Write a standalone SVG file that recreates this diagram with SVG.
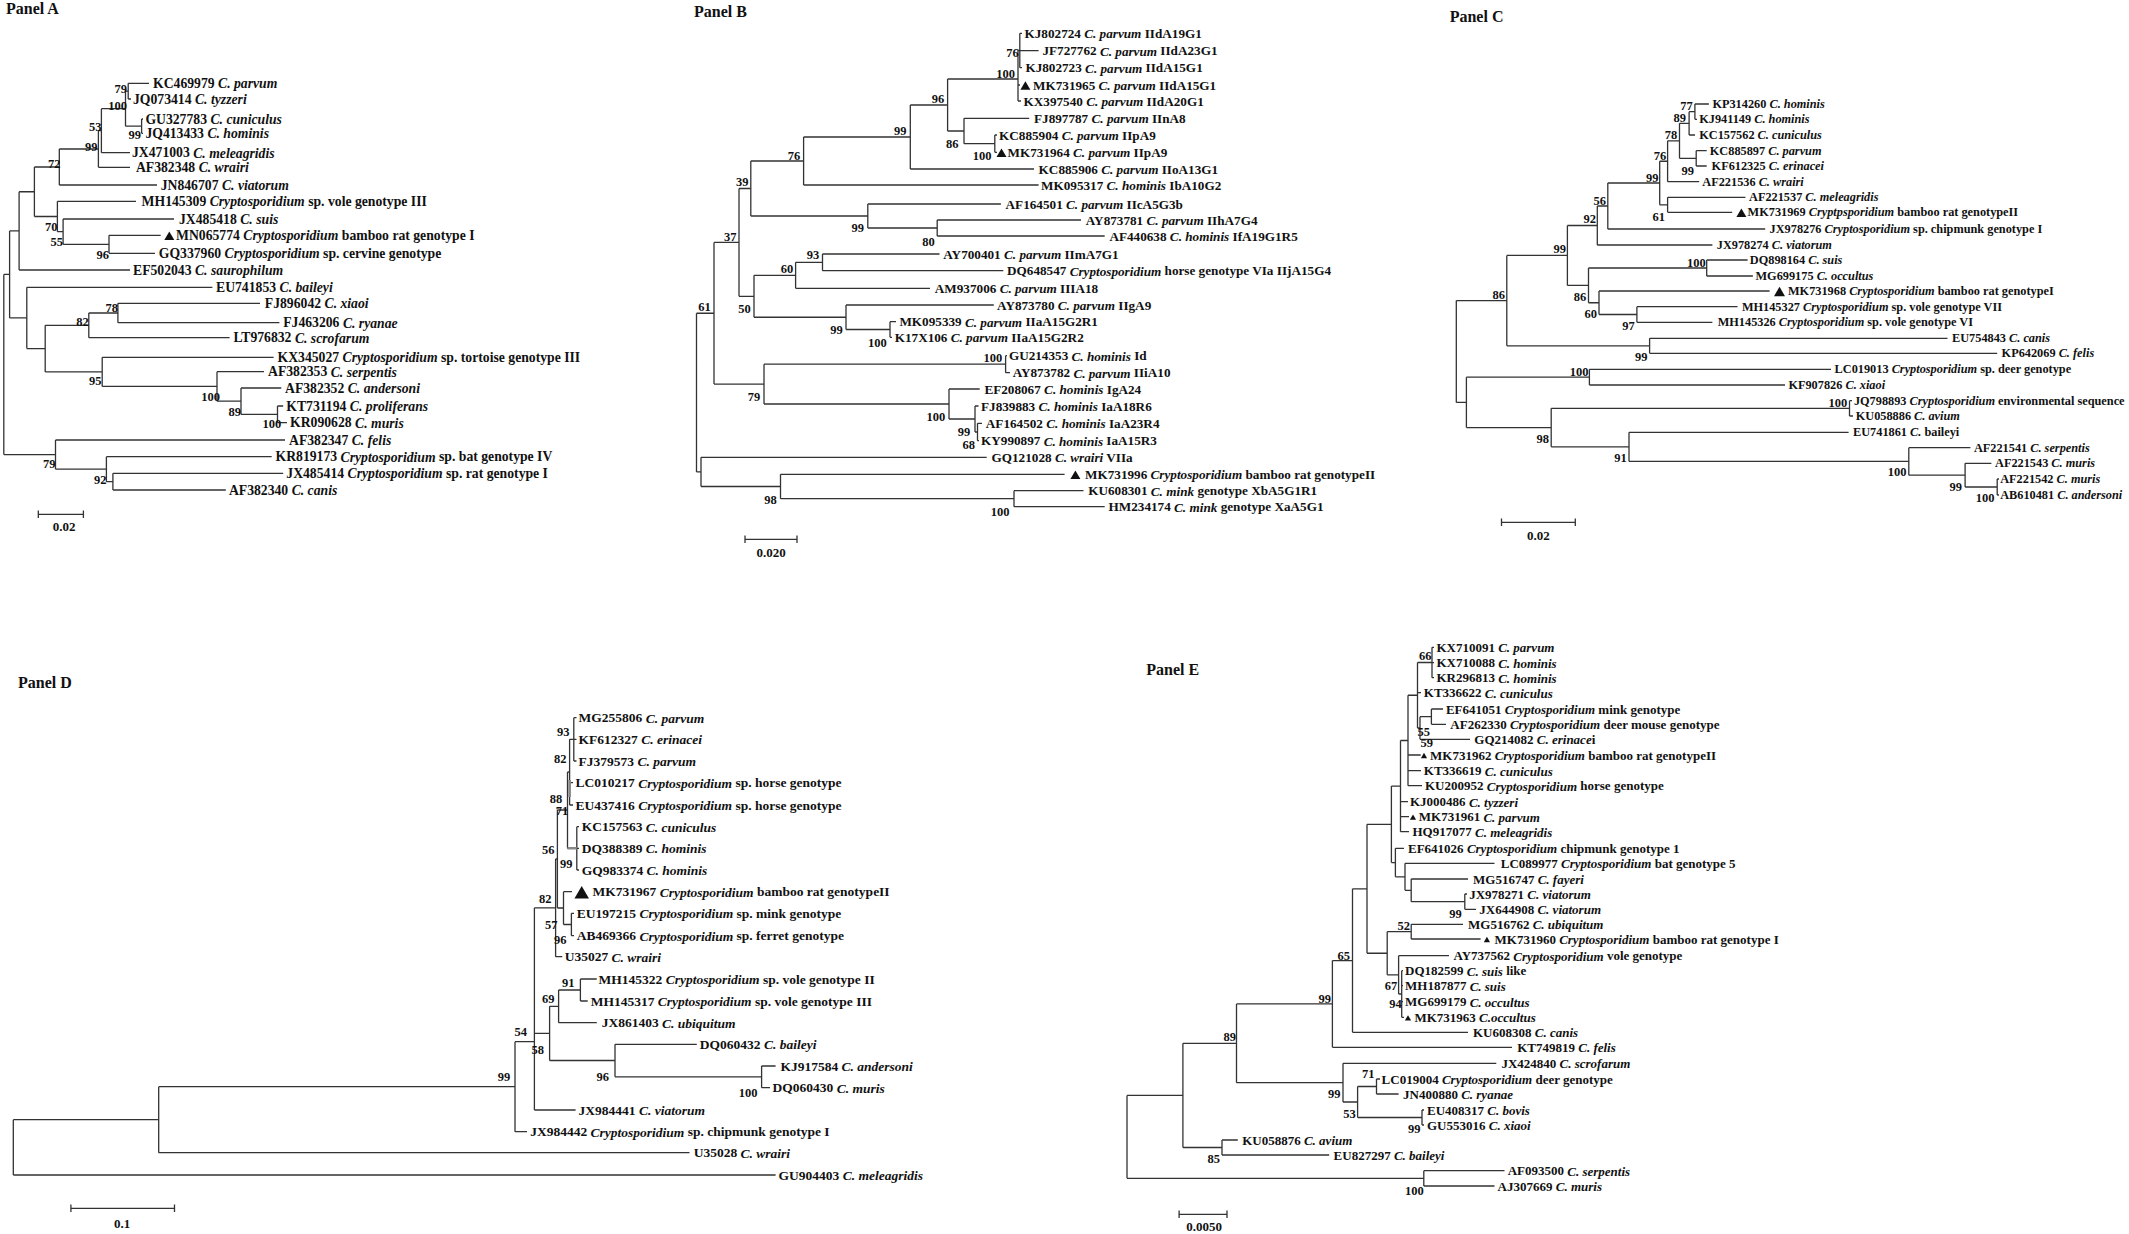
<svg xmlns="http://www.w3.org/2000/svg" width="2129" height="1234" viewBox="0 0 2129 1234">
<style>
text{font-family:"Liberation Serif","Times New Roman",serif;font-weight:bold;fill:#111}
.la{font-size:13.7px;dominant-baseline:central}
.lb{font-size:13.2px;dominant-baseline:central}
.lc{font-size:12.3px;dominant-baseline:central}
.ld{font-size:13.5px;dominant-baseline:central}
.le{font-size:13px;dominant-baseline:central}
.s{font-size:12.5px;text-anchor:end;dominant-baseline:central}
.ttl{font-size:16px;dominant-baseline:central}
.sc{font-size:13px;text-anchor:middle;dominant-baseline:central}
.i{font-style:italic}
.br{fill:none;stroke:#333;stroke-width:1.3}
.tri{fill:#111}
</style>
<defs>
<path id="tri" d="M-5,4.3L5,4.3L0,-4.3Z"/>
</defs>
<rect width="2129" height="1234" fill="#fff"/>

<g id="connectors">
<path id="treeA" class="br" d="M128.2 83.3V99M141.6 119V133.3M125.5 91.15V126.15M101.4 108.65V152.7M98.4 130.7V167.3M59.3 149V185M109 235.3V253.3M63.1 219V244.3M57.4 201.3V231.65M34.4 167V216.5M19.1 191.75V270M117.9 303.3V322.7M88.8 313V337.7M277.5 406V422.7M241 388V414.35M217 371.7V401.2M102.2 357.3V386.45M45.2 325.35V371.9M26.8 287.3V348.6M9.6 230.9V317.95M112.9 473.3V490M106.4 456.7V481.65M55.5 440V469.2M3.8 274.4V454.6M125.5 91.15H128.2M125.5 126.15H141.6M101.4 108.65H125.5M98.4 130.7H101.4M59.3 149H98.4M34.4 167H59.3M63.1 244.3H109M57.4 231.65H63.1M34.4 216.5H57.4M19.1 191.75H34.4M9.6 230.9H19.1M88.8 313H117.9M45.2 325.35H88.8M241 414.35H277.5M217 401.2H241M102.2 386.45H217M45.2 371.9H102.2M26.8 348.6H45.2M9.6 317.95H26.8M3.8 274.4H9.6M106.4 481.65H112.9M55.5 469.2H106.4M3.8 454.6H55.5M128.2 83.3H149M128.2 99H131M141.6 119H143M141.6 133.3H143M101.4 152.7H130M98.4 167.3H130M59.3 185H157M57.4 201.3H136M63.1 219H174M109 235.3H160.7M109 253.3H155M19.1 270H130M26.8 287.3H212.4M117.9 303.3H260M117.9 322.7H279.4M88.8 337.7H229.6M102.2 357.3H273.6M217 371.7H264M241 388H281.3M277.5 406H283.2M277.5 422.7H287M55.5 440H285M106.4 456.7H271.7M112.9 473.3H283.2M112.9 490H225.8M38.3 514.3H83.4M38.3 510.5V518M83.4 510.5V518"/>
<path id="treeB" class="br" d="M1019.8 33.3V67.7M1018 50.5V101M994.8 135V152.3M964 118.3V143.65M947.6 79V131M910.3 105V169M803.6 137V185M937.2 220V236M867.8 204V228M750.8 161V216M822.5 254V270.7M795.6 262.35V288.3M890 321.7V337.3M846 305V329.5M754 275.3V317.25M739 188.5V296.3M1005.6 355.7V372.7M977.5 423.3V440.7M975 406V432M949 389V419M764 364.2V404M714 242.4V384.1M1014 490.7V506.7M780.5 474.3V498.7M701 457.3V486.5M696.5 313.25V471.9M1018 50.5H1019.8M947.6 79H1018M964 143.65H994.8M947.6 131H964M910.3 105H947.6M803.6 137H910.3M750.8 161H803.6M867.8 228H937.2M750.8 216H867.8M739 188.5H750.8M795.6 262.35H822.5M754 275.3H795.6M846 329.5H890M754 317.25H846M739 296.3H754M714 242.4H739M764 364.2H1005.6M975 432H977.5M949 419H975M764 404H949M714 384.1H764M696.5 313.25H714M780.5 498.7H1014M701 486.5H780.5M696.5 471.9H701M1019.8 33.3H1022M1019.8 50.7H1038.6M1019.8 67.7H1022M1018 85H1020M1018 101H1021M964 118.3H1029.2M994.8 135H997M994.8 152.3H997M910.3 169H1034M803.6 185H1038.6M867.8 204H1000.9M937.2 220H1081M937.2 236H1104.7M822.5 254H939.5M822.5 270.7H1003.3M795.6 288.3H930M846 305H993.8M890 321.7H896M890 337.3H892M1005.6 355.7H1007M1005.6 372.7H1010M949 389H979.7M975 406H978.5M977.5 423.3H982M977.5 440.7H979M701 457.3H986.7M780.5 474.3H1064.6M1014 490.7H1083.5M1014 506.7H1104.7M745 539.3H797M745 535.5V543M797 535.5V543"/>
<path id="treeC" class="br" d="M1694.9 104V119.3M1689.1 111.65V135M1696.2 150.7V166M1679.5 123.3V158.35M1667.6 140.8V181.7M1667.6 197.3V212.3M1659.7 161.25V204.8M1607.8 183V229M1597.3 206V245M1706.7 260V276M1636.9 306.7V322.3M1599 291V314.5M1588.5 268V302.75M1567.4 225.5V285.4M1649.6 338.3V353.3M1506.8 255.45V345.8M1589.4 369.3V385M1849.5 400.7V416M1997.2 479V495M1965.1 463.3V487M1908.8 447.7V475.15M1629 432.3V461.4M1551.2 408.35V446.85M1466.4 377.15V427.6M1456.3 300.6V402.4M1689.1 111.65H1694.9M1679.5 123.3H1689.1M1679.5 158.35H1696.2M1667.6 140.8H1679.5M1659.7 161.25H1667.6M1659.7 204.8H1667.6M1607.8 183H1659.7M1597.3 206H1607.8M1567.4 225.5H1597.3M1588.5 268H1706.7M1599 314.5H1636.9M1588.5 302.75H1599M1567.4 285.4H1588.5M1506.8 255.45H1567.4M1506.8 345.8H1649.6M1456.3 300.6H1506.8M1466.4 377.15H1589.4M1551.2 408.35H1849.5M1965.1 487H1997.2M1908.8 475.15H1965.1M1629 461.4H1908.8M1551.2 446.85H1629M1466.4 427.6H1551.2M1456.3 402.4H1466.4M1694.9 104H1708.9M1694.9 119.3H1697M1689.1 135H1695M1696.2 150.7H1706.7M1696.2 166H1706.7M1667.6 181.7H1699.2M1667.6 197.3H1745.4M1667.6 212.3H1732.2M1607.8 229H1765.2M1597.3 245H1712.4M1706.7 260H1747.6M1706.7 276H1752.9M1599 291H1769.6M1636.9 306.7H1737.5M1636.9 322.3H1712.4M1649.6 338.3H1947.5M1649.6 353.3H1997.2M1589.4 369.3H1831M1589.4 385H1785M1849.5 400.7H1852M1849.5 416H1853M1629 432.3H1848.6M1908.8 447.7H1970.4M1965.1 463.3H1991.4M1997.2 479H1999M1997.2 495H1999M1501.5 522.3H1575.3M1501.5 518.5V526M1575.3 518.5V526"/>
<path id="treeD" class="br" d="M573.8 717.7V761M569.6 739.3V805M576.8 826.7V870M567.5 772V848.3M571.4 913.3V935.7M563.5 891.7V924.5M557.4 810V908M555.6 859V956.7M580.4 979V1001M558.6 990V1022.7M761.6 1066V1087.7M615 1044.3V1076.8M549.6 1006.3V1060.5M534.4 907.8V1110M515 1041.7V1131.7M158.7 1086.7V1152.7M13.3 1119.7V1175M569.6 739.3H573.8M567.5 772H569.6M567.5 848.3H576.8M557.4 810H567.5M563.5 924.5H571.4M557.4 908H563.5M555.6 859H557.4M534.4 907.8H555.6M558.6 990H580.4M549.6 1006.3H558.6M615 1076.8H761.6M549.6 1060.5H615M534.4 1033.4H549.6M515 1041.7H534.4M158.7 1086.7H515M13.3 1119.7H158.7M573.8 717.7H576.5M573.8 739.3H576.5M573.8 761H576.5M569.6 782.7H573M569.6 805H573M576.8 826.7H579M576.8 848.3H579M576.8 870H579M563.5 891.7H572M571.4 913.3H574M571.4 935.7H574M555.6 956.7H562.3M580.4 979H596.8M580.4 1001H587.7M558.6 1022.7H596.8M615 1044.3H696.8M761.6 1066H775.6M761.6 1087.7H770M534.4 1110H575.6M515 1131.7H527M158.7 1152.7H689.5M13.3 1175H775.6M70.9 1208.3H174.5M70.9 1204.5V1212M174.5 1204.5V1212"/>
<path id="treeDgrey" fill="none" stroke="#888" stroke-width="2.6" d="M569.6 780V797M567.5 848.3H576.8"/>
<path id="treeE" class="br" d="M1432 647.3V677.7M1431.4 709V724.3M1420 716.65V739.3M1417.5 662.5V728M1408 695.25V785.7M1400.5 740.5V831.7M1464.8 894V909.3M1411.2 879V901.65M1405 863.3V890.3M1395.4 848.3V876.8M1391.4 786.1V862.55M1411.2 924.3V939M1401.7 970.7V1017.3M1398.6 955.7V994M1387.2 931.65V974.85M1367 824.3V953.25M1352.5 888.8V1032.3M1332.4 960.55V1047.3M1376.5 1079V1094M1422 1110V1125M1357.6 1086.5V1117.5M1343 1063.3V1102M1236.5 1003.9V1082.65M1222 1140V1155M1182.9 1043.3V1147.5M1423.8 1170.7V1186M1127 1095.4V1178.35M1417.5 662.5H1432M1420 716.65H1431.4M1417.5 728H1420M1408 695.25H1417.5M1400.5 740.5H1408M1391.4 786.1H1400.5M1411.2 901.65H1464.8M1405 890.3H1411.2M1395.4 876.8H1405M1391.4 862.55H1395.4M1367 824.3H1391.4M1387.2 931.65H1411.2M1398.6 994H1401.7M1387.2 974.85H1398.6M1367 953.25H1387.2M1352.5 888.8H1367M1332.4 960.55H1352.5M1236.5 1003.9H1332.4M1357.6 1086.5H1376.5M1357.6 1117.5H1422M1343 1102H1357.6M1236.5 1082.65H1343M1182.9 1043.3H1236.5M1182.9 1147.5H1222M1127 1095.4H1182.9M1127 1178.35H1423.8M1432 647.3H1434M1432 662.7H1434M1432 677.7H1434M1417.5 692.7H1421M1431.4 709H1443M1431.4 724.3H1446M1420 739.3H1470M1408 755H1420.7M1408 770.7H1421M1408 785.7H1422M1400.5 801.7H1408M1400.5 816.7H1409M1400.5 831.7H1409M1395.4 848.3H1404M1405 863.3H1494.5M1411.2 879H1468M1464.8 894H1467M1464.8 909.3H1476M1411.2 924.3H1463M1411.2 939H1480.6M1398.6 955.7H1449M1401.7 970.7H1403M1401.7 985.7H1403M1401.7 1001.7H1403M1401.7 1017.3H1404M1352.5 1032.3H1468M1332.4 1047.3H1512M1343 1063.3H1496.3M1376.5 1079H1380M1376.5 1094H1398.6M1422 1110H1424M1422 1125H1424M1222 1140H1237.8M1222 1155H1329.2M1423.8 1170.7H1504.5M1423.8 1186H1494.5M1179.1 1214.3H1227M1179.1 1210.5V1218M1227 1210.5V1218"/>
</g>

<g id="titles">
<text class="ttl" x="6" y="8.5">Panel A</text>
<text class="ttl" x="694" y="11.7">Panel B</text>
<text class="ttl" x="1449.7" y="16.7">Panel C</text>
<text class="ttl" x="18" y="682">Panel D</text>
<text class="ttl" x="1146.3" y="669.3">Panel E</text>
</g>

<g id="scales">
<text class="sc" x="64" y="526.7">0.02</text>
<text class="sc" x="771" y="552.7">0.020</text>
<text class="sc" x="1538.4" y="535">0.02</text>
<text class="sc" x="122" y="1223.3">0.1</text>
<text class="sc" x="1204" y="1226.7">0.0050</text>
</g>

<g id="supportA">
<text class="s" x="127" y="89.3">79</text><text class="s" x="127" y="106">100</text><text class="s" x="141" y="135">99</text><text class="s" x="101.4" y="126.7">53</text><text class="s" x="97.6" y="146.7">99</text><text class="s" x="60.5" y="164">72</text><text class="s" x="57.4" y="227.3">70</text><text class="s" x="63.1" y="241.7">55</text><text class="s" x="109" y="255">96</text><text class="s" x="117.9" y="308.3">78</text><text class="s" x="88.8" y="322.3">82</text><text class="s" x="101.4" y="381">95</text><text class="s" x="220" y="396.7">100</text><text class="s" x="241" y="411.7">89</text><text class="s" x="281.3" y="424">100</text><text class="s" x="55.5" y="464">79</text><text class="s" x="106.4" y="480">92</text>
</g>
<g id="supportB">
<text class="s" x="1018.8" y="52.7">76</text><text class="s" x="1015" y="74">100</text><text class="s" x="991.5" y="156">100</text><text class="s" x="958.4" y="144">86</text><text class="s" x="944.3" y="99.3">96</text><text class="s" x="906.5" y="131">99</text><text class="s" x="800.3" y="155.7">76</text><text class="s" x="748.4" y="181.7">39</text><text class="s" x="934.8" y="241.7">80</text><text class="s" x="864" y="228.3">99</text><text class="s" x="736.6" y="236.7">37</text><text class="s" x="819.2" y="255.3">93</text><text class="s" x="793.3" y="269">60</text><text class="s" x="886.7" y="343.3">100</text><text class="s" x="842.8" y="330">99</text><text class="s" x="750.8" y="309.3">50</text><text class="s" x="1002.3" y="357.7">100</text><text class="s" x="710.7" y="306.7">61</text><text class="s" x="760.2" y="397.3">79</text><text class="s" x="945.2" y="416.7">100</text><text class="s" x="970.2" y="431.7">99</text><text class="s" x="975" y="445">68</text><text class="s" x="776.7" y="500">98</text><text class="s" x="1009.4" y="511.7">100</text>
</g>
<g id="supportC">
<text class="s" x="1692.7" y="106">77</text><text class="s" x="1686" y="118.3">89</text><text class="s" x="1694" y="170.7">99</text><text class="s" x="1677.3" y="135">78</text><text class="s" x="1666.3" y="155.7">76</text><text class="s" x="1665" y="217.3">61</text><text class="s" x="1658.4" y="178.3">99</text><text class="s" x="1606" y="200.7">56</text><text class="s" x="1596" y="219.3">92</text><text class="s" x="1566.1" y="249.3">99</text><text class="s" x="1705.8" y="262.7">100</text><text class="s" x="1586.3" y="296.7">86</text><text class="s" x="1634.7" y="326">97</text><text class="s" x="1596.9" y="314.3">60</text><text class="s" x="1647.4" y="357.3">99</text><text class="s" x="1505" y="295">86</text><text class="s" x="1588.5" y="371.7">100</text><text class="s" x="1847.3" y="402.7">100</text><text class="s" x="1549" y="439.3">98</text><text class="s" x="1626.7" y="458.3">91</text><text class="s" x="1906.6" y="472.3">100</text><text class="s" x="1962" y="486.7">99</text><text class="s" x="1994.5" y="498.3">100</text>
</g>
<g id="supportD">
<text class="s" x="569.5" y="731.7">93</text><text class="s" x="566.5" y="759">82</text><text class="s" x="562.3" y="799.3">88</text><text class="s" x="568.3" y="810.7">71</text><text class="s" x="554.4" y="850">56</text><text class="s" x="572.6" y="864">99</text><text class="s" x="551.4" y="899.3">82</text><text class="s" x="557.4" y="925">57</text><text class="s" x="566.5" y="940">96</text><text class="s" x="574.4" y="982.7">91</text><text class="s" x="554.4" y="999.3">69</text><text class="s" x="527" y="1031.7">54</text><text class="s" x="544" y="1050">58</text><text class="s" x="609" y="1076.7">96</text><text class="s" x="510.2" y="1077.3">99</text><text class="s" x="757.4" y="1092.7">100</text>
</g>
<g id="supportE">
<text class="s" x="1431.4" y="656">66</text><text class="s" x="1430" y="731.7">55</text><text class="s" x="1433" y="743.3">59</text><text class="s" x="1461.7" y="914">99</text><text class="s" x="1409.9" y="926">52</text><text class="s" x="1397.3" y="985.7">67</text><text class="s" x="1401.7" y="1004.3">94</text><text class="s" x="1350" y="956">65</text><text class="s" x="1331" y="999.3">99</text><text class="s" x="1236" y="1037.3">89</text><text class="s" x="1374.6" y="1074">71</text><text class="s" x="1420.6" y="1129.3">99</text><text class="s" x="1355.7" y="1114">53</text><text class="s" x="1340.6" y="1094">99</text><text class="s" x="1220" y="1159.3">85</text><text class="s" x="1423.8" y="1191">100</text>
</g>

<g id="panelA">
<g id="a1"><text class="la" x="153" y="83.3">KC469979 <tspan class="i">C. parvum</tspan></text></g>
<g id="a2"><text class="la" x="133" y="99">JQ073414 <tspan class="i">C. tyzzeri</tspan></text></g>
<g id="a3"><text class="la" x="145.4" y="119">GU327783 <tspan class="i">C. cuniculus</tspan></text></g>
<g id="a4"><text class="la" x="145.4" y="133.3">JQ413433 <tspan class="i">C. hominis</tspan></text></g>
<g id="a5"><text class="la" x="132" y="152.7">JX471003 <tspan class="i">C. meleagridis</tspan></text></g>
<g id="a6"><text class="la" x="135.9" y="167.3">AF382348 <tspan class="i">C. wrairi</tspan></text></g>
<g id="a7"><text class="la" x="160.7" y="185">JN846707 <tspan class="i">C. viatorum</tspan></text></g>
<g id="a8"><text class="la" x="141.6" y="201.3">MH145309 <tspan class="i">Cryptosporidium</tspan> sp. vole genotype III</text></g>
<g id="a9"><text class="la" x="179" y="219">JX485418 <tspan class="i">C. suis</tspan></text></g>
<g id="a10"><use href="#tri" class="tri" transform="translate(169.3,235.8)"/><text class="la" x="176" y="235.3">MN065774 <tspan class="i">Cryptosporidium</tspan> bamboo rat genotype I</text></g>
<g id="a11"><text class="la" x="158.8" y="253.3">GQ337960 <tspan class="i">Cryptosporidium</tspan> sp. cervine genotype</text></g>
<g id="a12"><text class="la" x="133" y="270">EF502043 <tspan class="i">C. saurophilum</tspan></text></g>
<g id="a13"><text class="la" x="216" y="287.3">EU741853 <tspan class="i">C. baileyi</tspan></text></g>
<g id="a14"><text class="la" x="264.8" y="303.3">FJ896042 <tspan class="i">C. xiaoi</tspan></text></g>
<g id="a15"><text class="la" x="283.2" y="322.7">FJ463206 <tspan class="i">C. ryanae</tspan></text></g>
<g id="a16"><text class="la" x="233.4" y="337.7">LT976832 <tspan class="i">C. scrofarum</tspan></text></g>
<g id="a17"><text class="la" x="277.5" y="357.3">KX345027 <tspan class="i">Cryptosporidium</tspan> sp. tortoise genotype III</text></g>
<g id="a18"><text class="la" x="268" y="371.7">AF382353 <tspan class="i">C. serpentis</tspan></text></g>
<g id="a19"><text class="la" x="285" y="388">AF382352 <tspan class="i">C. andersoni</tspan></text></g>
<g id="a20"><text class="la" x="286.3" y="406">KT731194 <tspan class="i">C. proliferans</tspan></text></g>
<g id="a21"><text class="la" x="290" y="422.7">KR090628 <tspan class="i">C. muris</tspan></text></g>
<g id="a22"><text class="la" x="289" y="440">AF382347 <tspan class="i">C. felis</tspan></text></g>
<g id="a23"><text class="la" x="275.5" y="456.7">KR819173 <tspan class="i">Cryptosporidium</tspan> sp. bat genotype IV</text></g>
<g id="a24"><text class="la" x="286.3" y="473.3">JX485414 <tspan class="i">Cryptosporidium</tspan> sp. rat genotype I</text></g>
<g id="a25"><text class="la" x="228.9" y="490">AF382340 <tspan class="i">C. canis</tspan></text></g>
</g>

<g id="panelB">
<g id="b1"><text class="lb" x="1024.5" y="33.3">KJ802724 <tspan class="i">C. parvum</tspan> IIdA19G1</text></g>
<g id="b2"><text class="lb" x="1042.4" y="50.7">JF727762 <tspan class="i">C. parvum</tspan> IIdA23G1</text></g>
<g id="b3"><text class="lb" x="1025.4" y="67.7">KJ802723 <tspan class="i">C. parvum</tspan> IIdA15G1</text></g>
<g id="b4"><use href="#tri" class="tri" transform="translate(1025.4,85.5)"/><text class="lb" x="1033" y="85">MK731965 <tspan class="i">C. parvum</tspan> IIdA15G1</text></g>
<g id="b5"><text class="lb" x="1023.5" y="101">KX397540 <tspan class="i">C. parvum</tspan> IIdA20G1</text></g>
<g id="b6"><text class="lb" x="1034" y="118.3">FJ897787 <tspan class="i">C. parvum</tspan> IInA8</text></g>
<g id="b7"><text class="lb" x="999" y="135">KC885904 <tspan class="i">C. parvum</tspan> IIpA9</text></g>
<g id="b8"><use href="#tri" class="tri" transform="translate(1001.5,152.8)"/><text class="lb" x="1007.5" y="152.3">MK731964 <tspan class="i">C. parvum</tspan> IIpA9</text></g>
<g id="b9"><text class="lb" x="1038.6" y="169">KC885906 <tspan class="i">C. parvum</tspan> IIoA13G1</text></g>
<g id="b10"><text class="lb" x="1041" y="185">MK095317 <tspan class="i">C. hominis</tspan> IbA10G2</text></g>
<g id="b11"><text class="lb" x="1005.6" y="204">AF164501 <tspan class="i">C. parvum</tspan> IIcA5G3b</text></g>
<g id="b12"><text class="lb" x="1085.8" y="220">AY873781 <tspan class="i">C. parvum</tspan> IIhA7G4</text></g>
<g id="b13"><text class="lb" x="1109.4" y="236">AF440638 <tspan class="i">C. hominis</tspan> IfA19G1R5</text></g>
<g id="b14"><text class="lb" x="943.3" y="254">AY700401 <tspan class="i">C. parvum</tspan> IImA7G1</text></g>
<g id="b15"><text class="lb" x="1007" y="270.7">DQ648547 <tspan class="i">Cryptosporidium</tspan> horse genotype VIa IIjA15G4</text></g>
<g id="b16"><text class="lb" x="934.8" y="288.3">AM937006 <tspan class="i">C. parvum</tspan> IIIA18</text></g>
<g id="b17"><text class="lb" x="997.1" y="305">AY873780 <tspan class="i">C. parvum</tspan> IIgA9</text></g>
<g id="b18"><text class="lb" x="899.4" y="321.7">MK095339 <tspan class="i">C. parvum</tspan> IIaA15G2R1</text></g>
<g id="b19"><text class="lb" x="894.7" y="337.3">K17X106 <tspan class="i">C. parvum</tspan> IIaA15G2R2</text></g>
<g id="b20"><text class="lb" x="1008.9" y="355.7">GU214353 <tspan class="i">C. hominis</tspan> Id</text></g>
<g id="b21"><text class="lb" x="1012.7" y="372.7">AY873782 <tspan class="i">C. parvum</tspan> IIiA10</text></g>
<g id="b22"><text class="lb" x="984.4" y="389">EF208067 <tspan class="i">C. hominis</tspan> IgA24</text></g>
<g id="b23"><text class="lb" x="981" y="406">FJ839883 <tspan class="i">C. hominis</tspan> IaA18R6</text></g>
<g id="b24"><text class="lb" x="985.8" y="423.3">AF164502 <tspan class="i">C. hominis</tspan> IaA23R4</text></g>
<g id="b25"><text class="lb" x="981" y="440.7">KY990897 <tspan class="i">C. hominis</tspan> IaA15R3</text></g>
<g id="b26"><text class="lb" x="991.5" y="457.3">GQ121028 <tspan class="i">C. wrairi</tspan> VIIa</text></g>
<g id="b27"><use href="#tri" class="tri" transform="translate(1075.4,474.8)"/><text class="lb" x="1085" y="474.3">MK731996 <tspan class="i">Cryptosporidium</tspan> bamboo rat genotypeII</text></g>
<g id="b28"><text class="lb" x="1088.2" y="490.7">KU608301 <tspan class="i">C. mink</tspan> genotype XbA5G1R1</text></g>
<g id="b29"><text class="lb" x="1108.5" y="506.7">HM234174 <tspan class="i">C. mink</tspan> genotype XaA5G1</text></g>
</g>

<g id="panelC">
<g id="c1"><text class="lc" x="1712.4" y="104">KP314260 <tspan class="i">C. hominis</tspan></text></g>
<g id="c2"><text class="lc" x="1699.2" y="119.3">KJ941149 <tspan class="i">C. hominis</tspan></text></g>
<g id="c3"><text class="lc" x="1699.2" y="135">KC157562 <tspan class="i">C. cuniculus</tspan></text></g>
<g id="c4"><text class="lc" x="1709.8" y="150.7">KC885897 <tspan class="i">C. parvum</tspan></text></g>
<g id="c5"><text class="lc" x="1711.6" y="166">KF612325 <tspan class="i">C. erinacei</tspan></text></g>
<g id="c6"><text class="lc" x="1702.3" y="181.7">AF221536 <tspan class="i">C. wrairi</tspan></text></g>
<g id="c7"><text class="lc" x="1749" y="197.3">AF221537 <tspan class="i">C. meleagridis</tspan></text></g>
<g id="c8"><use href="#tri" class="tri" transform="translate(1741.4,212.8)"/><text class="lc" x="1747.6" y="212.3">MK731969 <tspan class="i">Cryptpsporidium</tspan> bamboo rat genotypeII</text></g>
<g id="c9"><text class="lc" x="1769.6" y="229">JX978276 <tspan class="i">Cryptosporidium</tspan> sp. chipmunk genotype I</text></g>
<g id="c10"><text class="lc" x="1716.8" y="245">JX978274 <tspan class="i">C. viatorum</tspan></text></g>
<g id="c11"><text class="lc" x="1749.8" y="260">DQ898164 <tspan class="i">C. suis</tspan></text></g>
<g id="c12"><text class="lc" x="1755.5" y="276">MG699175 <tspan class="i">C. occultus</tspan></text></g>
<g id="c13"><use href="#tri" class="tri" transform="translate(1779.5,291.5) scale(1.1)"/><text class="lc" x="1788" y="291">MK731968 <tspan class="i">Cryptosporidium</tspan> bamboo rat genotypeI</text></g>
<g id="c14"><text class="lc" x="1741.9" y="306.7">MH145327 <tspan class="i">Cryptosporidium</tspan> sp. vole genotype VII</text></g>
<g id="c15"><text class="lc" x="1717.7" y="322.3">MH145326 <tspan class="i">Cryptosporidium</tspan> sp. vole genotype VI</text></g>
<g id="c16"><text class="lc" x="1952" y="338.3">EU754843 <tspan class="i">C. canis</tspan></text></g>
<g id="c17"><text class="lc" x="2001.6" y="353.3">KP642069 <tspan class="i">C. felis</tspan></text></g>
<g id="c18"><text class="lc" x="1834.6" y="369.3">LC019013 <tspan class="i">Cryptosporidium</tspan> sp. deer genotype</text></g>
<g id="c19"><text class="lc" x="1788.4" y="385">KF907826 <tspan class="i">C. xiaoi</tspan></text></g>
<g id="c20"><text class="lc" x="1853.9" y="400.7">JQ798893 <tspan class="i">Cryptosporidium</tspan> environmental sequence</text></g>
<g id="c21"><text class="lc" x="1855.7" y="416">KU058886 <tspan class="i">C. avium</tspan></text></g>
<g id="c22"><text class="lc" x="1853" y="432.3">EU741861 <tspan class="i">C.</tspan> baileyi</text></g>
<g id="c23"><text class="lc" x="1973.9" y="447.7">AF221541 <tspan class="i">C. serpentis</tspan></text></g>
<g id="c24"><text class="lc" x="1995" y="463.3">AF221543 <tspan class="i">C. muris</tspan></text></g>
<g id="c25"><text class="lc" x="2000.2" y="479">AF221542 <tspan class="i">C. muris</tspan></text></g>
<g id="c26"><text class="lc" x="2000.2" y="495">AB610481 <tspan class="i">C. andersoni</tspan></text></g>
</g>

<g id="panelD">
<g id="d1"><text class="ld" x="578.6" y="717.7">MG255806 <tspan class="i">C. parvum</tspan></text></g>
<g id="d2"><text class="ld" x="578.6" y="739.3">KF612327 <tspan class="i">C. erinacei</tspan></text></g>
<g id="d3"><text class="ld" x="578.6" y="761">FJ379573 <tspan class="i">C. parvum</tspan></text></g>
<g id="d4"><text class="ld" x="575.6" y="782.7">LC010217 <tspan class="i">Cryptosporidium</tspan> sp. horse genotype</text></g>
<g id="d5"><text class="ld" x="575.6" y="805">EU437416 <tspan class="i">Cryptosporidium</tspan> sp. horse genotype</text></g>
<g id="d6"><text class="ld" x="581.7" y="826.7">KC157563 <tspan class="i">C. cuniculus</tspan></text></g>
<g id="d7"><text class="ld" x="581.7" y="848.3">DQ388389 <tspan class="i">C. hominis</tspan></text></g>
<g id="d8"><text class="ld" x="581.7" y="870">GQ983374 <tspan class="i">C. hominis</tspan></text></g>
<g id="d9"><use href="#tri" class="tri" transform="translate(581.7,892.2) scale(1.45)"/><text class="ld" x="592.6" y="891.7">MK731967 <tspan class="i">Cryptosporidium</tspan> bamboo rat genotypeII</text></g>
<g id="d10"><text class="ld" x="576.8" y="913.3">EU197215 <tspan class="i">Cryptosporidium</tspan> sp. mink genotype</text></g>
<g id="d11"><text class="ld" x="576.8" y="935.7">AB469366 <tspan class="i">Cryptosporidium</tspan> sp. ferret genotype</text></g>
<g id="d12"><text class="ld" x="564.7" y="956.7">U35027 <tspan class="i">C. wrairi</tspan></text></g>
<g id="d13"><text class="ld" x="598.6" y="979">MH145322 <tspan class="i">Cryptosporidium</tspan> sp. vole genotype II</text></g>
<g id="d14"><text class="ld" x="590.7" y="1001">MH145317 <tspan class="i">Cryptosporidium</tspan> sp. vole genotype III</text></g>
<g id="d15"><text class="ld" x="601.7" y="1022.7">JX861403 <tspan class="i">C. ubiquitum</tspan></text></g>
<g id="d16"><text class="ld" x="699.8" y="1044.3">DQ060432 <tspan class="i">C. baileyi</tspan></text></g>
<g id="d17"><text class="ld" x="780.4" y="1066">KJ917584 <tspan class="i">C. andersoni</tspan></text></g>
<g id="d18"><text class="ld" x="772.5" y="1087.7">DQ060430 <tspan class="i">C. muris</tspan></text></g>
<g id="d19"><text class="ld" x="578.6" y="1110">JX984441 <tspan class="i">C. viatorum</tspan></text></g>
<g id="d20"><text class="ld" x="530.2" y="1131.7">JX984442 <tspan class="i">Cryptosporidium</tspan> sp. chipmunk genotype I</text></g>
<g id="d21"><text class="ld" x="693.7" y="1152.7">U35028 <tspan class="i">C. wrairi</tspan></text></g>
<g id="d22"><text class="ld" x="778.6" y="1175">GU904403 <tspan class="i">C. meleagridis</tspan></text></g>
</g>

<g id="panelE">
<g id="e1"><text class="le" x="1436.4" y="647.3">KX710091 <tspan class="i">C. parvum</tspan></text></g>
<g id="e2"><text class="le" x="1436.4" y="662.7">KX710088 <tspan class="i">C. hominis</tspan></text></g>
<g id="e3"><text class="le" x="1436.4" y="677.7">KR296813 <tspan class="i">C. hominis</tspan></text></g>
<g id="e4"><text class="le" x="1423.8" y="692.7">KT336622 <tspan class="i">C. cuniculus</tspan></text></g>
<g id="e5"><text class="le" x="1445.9" y="709">EF641051 <tspan class="i">Cryptosporidium</tspan> mink genotype</text></g>
<g id="e6"><text class="le" x="1450.3" y="724.3">AF262330 <tspan class="i">Cryptosporidium</tspan> deer mouse genotype</text></g>
<g id="e7"><text class="le" x="1474.3" y="739.3">GQ214082 <tspan class="i">C. erinace</tspan>i</text></g>
<g id="e8"><use href="#tri" class="tri" transform="translate(1424,755.5) scale(0.62)"/><text class="le" x="1430" y="755">MK731962 <tspan class="i">Cryptosporidium</tspan> bamboo rat genotypeII</text></g>
<g id="e9"><text class="le" x="1423.8" y="770.7">KT336619 <tspan class="i">C. cuniculus</tspan></text></g>
<g id="e10"><text class="le" x="1425" y="785.7">KU200952 <tspan class="i">Cryptosporidium</tspan> horse genotype</text></g>
<g id="e11"><text class="le" x="1410" y="801.7">KJ000486 <tspan class="i">C. tyzzeri</tspan></text></g>
<g id="e12"><use href="#tri" class="tri" transform="translate(1413,817.2) scale(0.62)"/><text class="le" x="1418.8" y="816.7">MK731961 <tspan class="i">C. parvum</tspan></text></g>
<g id="e13"><text class="le" x="1412.5" y="831.7">HQ917077 <tspan class="i">C. meleagridis</tspan></text></g>
<g id="e14"><text class="le" x="1408" y="848.3">EF641026 <tspan class="i">Cryptosporidium</tspan> chipmunk genotype 1</text></g>
<g id="e15"><text class="le" x="1500.8" y="863.3">LC089977 <tspan class="i">Cryptosporidium</tspan> bat genotype 5</text></g>
<g id="e16"><text class="le" x="1473" y="879">MG516747 <tspan class="i">C. fayeri</tspan></text></g>
<g id="e17"><text class="le" x="1469.2" y="894">JX978271 <tspan class="i">C. viatorum</tspan></text></g>
<g id="e18"><text class="le" x="1479.3" y="909.3">JX644908 <tspan class="i">C. viatorum</tspan></text></g>
<g id="e19"><text class="le" x="1468" y="924.3">MG516762 <tspan class="i">C. ubiquitum</tspan></text></g>
<g id="e20"><use href="#tri" class="tri" transform="translate(1486.9,939.5) scale(0.62)"/><text class="le" x="1494.5" y="939">MK731960 <tspan class="i">Cryptosporidium</tspan> bamboo rat genotype I</text></g>
<g id="e21"><text class="le" x="1453.5" y="955.7">AY737562 <tspan class="i">Cryptosporidium</tspan> vole genotype</text></g>
<g id="e22"><text class="le" x="1405" y="970.7">DQ182599 <tspan class="i">C. suis</tspan> like</text></g>
<g id="e23"><text class="le" x="1405" y="985.7">MH187877 <tspan class="i">C. suis</tspan></text></g>
<g id="e24"><text class="le" x="1405" y="1001.7">MG699179 <tspan class="i">C. occultus</tspan></text></g>
<g id="e25"><use href="#tri" class="tri" transform="translate(1408,1017.8) scale(0.62)"/><text class="le" x="1414.4" y="1017.3">MK731963 <tspan class="i">C.occultus</tspan></text></g>
<g id="e26"><text class="le" x="1473" y="1032.3">KU608308 <tspan class="i">C. canis</tspan></text></g>
<g id="e27"><text class="le" x="1517.2" y="1047.3">KT749819 <tspan class="i">C. felis</tspan></text></g>
<g id="e28"><text class="le" x="1501.4" y="1063.3">JX424840 <tspan class="i">C. scrofarum</tspan></text></g>
<g id="e29"><text class="le" x="1381.6" y="1079">LC019004 <tspan class="i">Cryptosporidium</tspan> deer genotype</text></g>
<g id="e30"><text class="le" x="1403" y="1094">JN400880 <tspan class="i">C. ryanae</tspan></text></g>
<g id="e31"><text class="le" x="1427" y="1110">EU408317 <tspan class="i">C. bovis</tspan></text></g>
<g id="e32"><text class="le" x="1427" y="1125">GU553016 <tspan class="i">C. xiaoi</tspan></text></g>
<g id="e33"><text class="le" x="1242.2" y="1140">KU058876 <tspan class="i">C. avium</tspan></text></g>
<g id="e34"><text class="le" x="1333.6" y="1155">EU827297 <tspan class="i">C. baileyi</tspan></text></g>
<g id="e35"><text class="le" x="1507.7" y="1170.7">AF093500 <tspan class="i">C. serpentis</tspan></text></g>
<g id="e36"><text class="le" x="1497.6" y="1186">AJ307669 <tspan class="i">C. muris</tspan></text></g>
</g>
</svg>
